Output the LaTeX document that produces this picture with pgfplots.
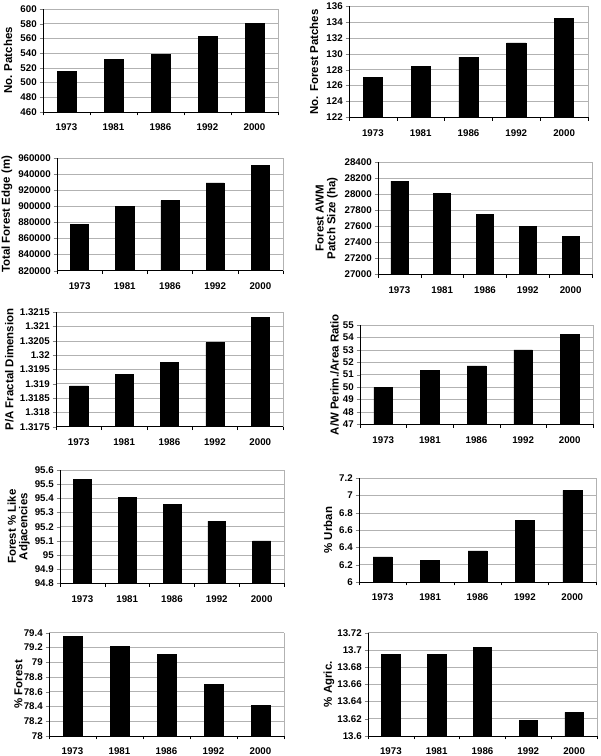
\documentclass[border=0pt]{standalone}
\usepackage{fontspec}
\setmainfont{Liberation Sans}
\usepackage{pgfplots}
\pgfplotsset{compat=1.18}

\pgfplotsset{
  panel/.style={
    scale only axis, anchor=south west,
    ybar, bar width=0.4,
    xmin=-0.5, xmax=4.5, xtick={0,...,4},
    xticklabels={1973,1981,1986,1992,2000},
    minor xtick={-0.5,0.5,...,4.5},
    major x tick style={draw=none},
    minor x tick style={draw=black, thin},
    tick align=outside,
    minor tick length=2.5pt, major tick length=2.5pt,
    axis x line*=bottom, axis y line*=left,
    axis line style={black, thin, -},
    ymajorgrids, grid style={gray!60, line width=0.5pt},
    tick label style={font=\fontsize{7.3}{8.5}\selectfont\bfseries},
    yticklabel style={inner xsep=2pt},
    xticklabel style={yshift=-3pt},
    ylabel style={font=\fontsize{8.6}{8.8}\selectfont\bfseries, align=center},
    scaled y ticks=false,
    after end axis/.code={\draw[gray!60] (rel axis cs:1,0) -- (rel axis cs:1,1);},
  },
  % label centre at a fixed distance left of the axis
  lab/.style={ylabel style={at={([xshift=-#1]rel axis cs:0,0.5)}, anchor=center}},
  bars/.style={fill=black, draw=black},
}

\begin{document}
\begin{tikzpicture}
\useasboundingbox (0,0) rectangle (450pt,-567pt);

% row 1
\begin{axis}[panel, at={(32.25pt,-84pt)}, width=176.25pt, height=77.25pt,
  ymin=460, ymax=600, ytick={460,480,...,600},
  yticklabels={460,480,500,520,540,560,580,600},
  ylabel={No. Patches}, lab=26.25pt]
\addplot[bars] coordinates {(0,515) (1,532) (2,538) (3,563) (4,580)};
\end{axis}

\begin{axis}[panel, at={(261.75pt,-88pt)}, width=179.25pt, height=83.25pt,
  ymin=122, ymax=136, ytick={122,124,...,136},
  yticklabels={122,124,126,128,130,132,134,136},
  ylabel={No. Forest Patches}, lab=26.25pt]
\addplot[bars] coordinates {(0,127.0) (1,128.4) (2,129.6) (3,131.4) (4,134.45)};
\end{axis}

% row 2
\begin{axis}[panel, at={(42.75pt,-203pt)}, width=169.5pt, height=84.3pt,
  ymin=820000, ymax=960000, ytick={820000,840000,...,960000},
  yticklabels={820000,840000,860000,880000,900000,920000,940000,960000},
  ylabel={Total Forest Edge (m)}, lab=37.5pt]
\addplot[bars] coordinates {(0,877400) (1,900200) (2,907300) (3,929400) (4,951400)};
\end{axis}

\begin{axis}[panel, at={(283.5pt,-205.75pt)}, width=160.5pt, height=84pt,
  ymin=27000, ymax=28400, ytick={27000,27200,...,28400},
  yticklabels={27000,27200,27400,27600,27800,28000,28200,28400},
  ylabel={Forest AWM\\Patch Size (ha)}, lab=38.5pt]
\addplot[bars] coordinates {(0,28165) (1,28010) (2,27745) (3,27600) (4,27475)};
\end{axis}

% row 3
\begin{axis}[panel, at={(42pt,-320pt)}, width=170.25pt, height=85.8pt,
  ymin=1.3175, ymax=1.3215,
  ytick={1.3175,1.318,1.3185,1.319,1.3195,1.32,1.3205,1.321,1.3215},
  yticklabels={1.3175,1.318,1.3185,1.319,1.3195,1.32,1.3205,1.321,1.3215},
  ylabel={P/A Fractal Dimension}, lab=35pt]
\addplot[bars] coordinates {(0,1.31893) (1,1.31934) (2,1.31975) (3,1.32044) (4,1.32133)};
\end{axis}

\begin{axis}[panel, at={(270pt,-318.25pt)}, width=174.75pt, height=74.5pt,
  ymin=47, ymax=55, ytick={47,...,55},
  yticklabels={47,48,49,50,51,52,53,54,55},
  ylabel={A/W Perim./Area Ratio}, lab=19pt]
\addplot[bars] coordinates {(0,49.98) (1,51.32) (2,51.70) (3,53.0) (4,54.22)};
\end{axis}

% row 4
\begin{axis}[panel, at={(45pt,-437.5pt)}, width=168pt, height=85pt,
  ymin=94.8, ymax=95.6,
  ytick={94.8,94.9,95,95.1,95.2,95.3,95.4,95.5,95.6},
  yticklabels={94.8,94.9,95,95.1,95.2,95.3,95.4,95.5,95.6},
  ylabel={Forest \% Like\\Adjacencies}, lab=31pt]
\addplot[bars] coordinates {(0,95.534) (1,95.407) (2,95.358) (3,95.24) (4,95.10)};
\end{axis}

\begin{axis}[panel, at={(269.25pt,-436.5pt)}, width=177.75pt, height=77.8pt,
  ymin=6, ymax=7.2, ytick={6,6.2,6.4,6.6,6.8,7,7.2},
  yticklabels={6,6.2,6.4,6.6,6.8,7,7.2},
  ylabel={\% Urban}, lab=23.25pt]
\addplot[bars] coordinates {(0,6.29) (1,6.25) (2,6.36) (3,6.71) (4,7.06)};
\end{axis}

% row 5
\begin{axis}[panel, at={(36.75pt,-552pt)}, width=176.25pt, height=77.5pt,
  ymin=78, ymax=79.4, ytick={78,78.2,78.4,78.6,78.8,79,79.2,79.4},
  yticklabels={78,78.2,78.4,78.6,78.8,79,79.2,79.4},
  ylabel={\% Forest}, lab=23pt]
\addplot[bars] coordinates {(0,79.345) (1,79.21) (2,79.106) (3,78.70) (4,78.42)};
\end{axis}

\begin{axis}[panel, at={(276pt,-552pt)}, width=171.75pt, height=77.5pt,
  ymin=13.6, ymax=13.72, ytick={13.6,13.62,13.64,13.66,13.68,13.7,13.72},
  yticklabels={13.6,13.62,13.64,13.66,13.68,13.7,13.72},
  ylabel={\% Agric.}, lab=29.25pt]
\addplot[bars] coordinates {(0,13.6948) (1,13.6944) (2,13.7029) (3,13.6178) (4,13.6275)};
\end{axis}
\end{tikzpicture}
\end{document}
